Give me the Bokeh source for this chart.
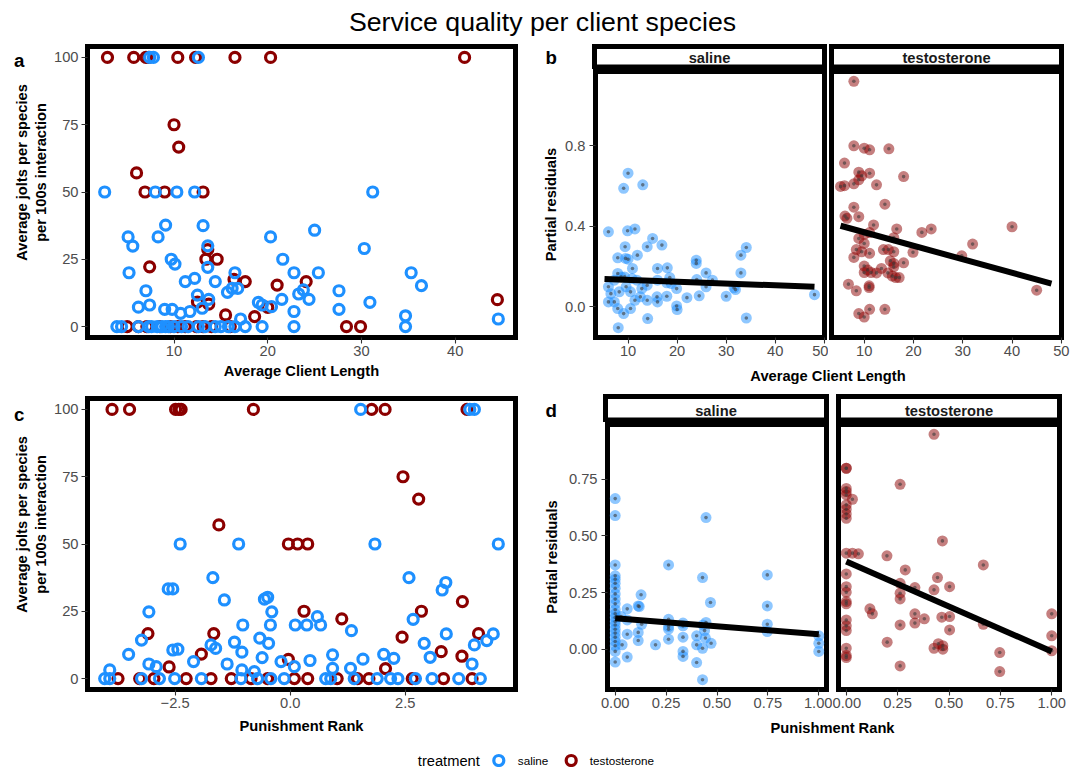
import math
from bokeh.plotting import figure
from bokeh.layouts import row, column
from bokeh.models import Range1d, FixedTicker, PrintfTickFormatter
from bokeh.core.properties import value
from bokeh.embed import file_html
from bokeh.resources import INLINE

FONT = "Liberation Sans"
BLUE = "#1E90FF"
RED = "#8B0000"
TICKTXT = "#4D4D4D"
FS = "14.7px"

# ---------------- data ----------------
# Panel a: average client length vs jolts (saline / testosterone)
a_sal_x = [7.4, 7.8, 12.6, 2.6, 8.0, 10.3, 12.2, 31.2, 9.1, 13.1, 25.0, 5.1, 8.3, 20.3,
           5.6, 30.3, 13.6, 9.7, 21.6, 10.1, 13.6, 5.2, 16.5, 22.8, 25.4, 35.3, 12.2, 11.2,
           14.4, 36.4, 15.7, 16.2, 16.8, 7.0, 27.6, 23.3, 23.8, 12.5, 24.4, 21.5, 13.7, 19.0,
           30.9, 19.4, 6.2, 7.4, 9.0, 9.8, 20.4, 27.6, 10.7, 22.8, 34.7, 44.6, 11.7, 13.0, 17.1,
           3.9, 4.4, 6.2, 7.3, 7.6, 8.2, 8.7, 9.1, 9.4, 10.0, 10.8, 11.5, 12.6, 13.3, 14.4,
           15.0, 15.8, 16.5, 17.6, 19.4, 22.8, 34.7]
a_sal_y = [100, 100, 100, 50, 50, 50, 50, 50, 37.7, 37.5, 35.8, 33.3, 33.3, 33.3,
           29.9, 29.0, 30.0, 25.0, 25.0, 23.2, 22.0, 20.0, 20.0, 20.0, 20.0, 20.0, 17.9, 16.7,
           16.7, 15.2, 12.7, 14.2, 14.2, 13.3, 13.3, 12.1, 13.6, 11.7, 10.1, 10.1, 10.1, 9.0,
           9.0, 8.0, 7.2, 8.0, 6.4, 6.4, 7.4, 6.4, 4.9, 5.6, 4.0, 2.8, 5.6, 6.8, 2.8,
           0, 0, 0, 0, 0, 0, 0, 0, 0, 0, 0, 0, 0, 0, 0, 0, 0, 0, 0, 0, 0, 0]
a_tes_x = [2.9, 5.7, 7.0, 7.3, 10.4, 12.3, 16.5, 20.3, 41.0, 10.0, 10.5, 6.0, 6.9, 9.0, 13.1,
           13.6, 13.4, 14.6, 7.4, 16.4, 17.6, 24.1, 21.0, 44.5, 12.5, 13.7, 15.5, 18.6, 20.0,
           5.0, 6.2, 7.1, 8.5, 9.6, 10.4, 11.2, 12.4, 13.1, 14.0, 16.0, 28.4, 29.9]
a_tes_y = [100, 100, 100, 100, 100, 100, 100, 100, 100, 75, 66.7, 57.1, 50, 50, 50,
           28.6, 25, 25, 22.2, 17.5, 16.7, 16.7, 15.4, 10, 9.1, 8.3, 4.3, 3.7, 7.1,
           0, 0, 0, 0, 0, 0, 0, 0, 0, 0, 0, 0, 0]

# Panel c: punishment rank vs jolts
c_sal_x = [1.53, 3.90, 4.00, -2.39, -1.12, 1.84, 4.52, -1.68, 2.58, 3.38, 3.30, -2.65, -2.55,
           -0.56, -0.49, -1.43, -3.07, -0.40, 0.59, 0.11, 0.36, 0.66, -1.03, -0.43, 2.67, 1.33,
           3.39, 4.41, 4.27, 4.00, -3.23, -1.21, -0.66, -0.47, -1.72, -1.62, 2.91,
           -3.51, -1.05, 2.03, 0.92, 2.25, 1.58, -0.61, 0.43, 3.04, -2.10, -2.55, -2.44,
           -3.07, -2.91, -3.92, -1.37, -0.20, 0.09, 0.92, 1.31, 3.95, -1.05, -0.78,
           -4.03, -3.92, -3.23, -2.84, -2.51, -1.93, -1.07, -0.71, -0.42, -0.13, 0.77, 0.88,
           1.39, 1.89, 2.18, 2.34, 2.72, 3.08, 3.66, 4.13]
c_sal_y = [100, 100, 100, 50, 50, 50, 50, 37.5, 37.5, 35.7, 32.9, 33.3, 33.3,
           29.5, 30.2, 29.2, 24.8, 24.8, 23.0, 19.9, 19.9, 19.9, 19.9, 19.9, 22.0, 17.8,
           16.6, 16.6, 14.1, 12.5, 14.3, 13.5, 15.0, 13.1, 12.5, 11.2, 13.1,
           9.0, 9.8, 9.0, 8.8, 7.5, 7.2, 7.8, 6.7, 7.9, 6.3, 10.6, 10.9,
           5.4, 4.4, 3.2, 5.4, 6.3, 4.4, 3.8, 3.8, 5.4, 3.2, 2.6,
           0, 0, 0, 0, 0, 0, 0, 0, 0, 0, 0, 0, 0, 0, 0, 0, 0, 0, 0, 0]
c_tes_x = [-3.87, -3.49, -2.49, -2.42, -2.37, -0.80, 1.77, 2.06, 3.84, 2.45, 2.79, -1.55,
           -0.04, 0.16, 0.38, 3.74, 0.30, 2.85, 1.12, -3.09, -1.66, 4.09, 2.43, 3.28, -1.93,
           3.73, -0.04, -2.63, 2.07,
           -3.74, -3.27, -2.96, -2.26, -1.72, -1.28, -0.85, -0.49, 0.09, 0.38, 1.02, 1.46,
           1.71, 2.65, 3.33, 3.95]
c_tes_y = [100, 100, 100, 100, 100, 100, 100, 100, 100, 75, 66.7, 57.1,
           50, 50, 50, 28.6, 25, 25, 22.2, 16.7, 16.7, 16.7, 15.4, 10, 9.1,
           8.3, 7.1, 4.3, 3.7,
           0, 0, 0, 0, 0, 0, 0, 0, 0, 0, 0, 0, 0, 0, 0, 0]

# Panel b: partial residuals vs average client length
b_sal_x = [6.0, 10.0, 9.1, 13.0, 9.9, 11.4, 9.4, 7.9, 9.5, 10.0, 11.9, 13.9, 15.0, 16.9,
           10.9, 16.0, 18.0, 23.9, 23.9, 25.9, 33.0, 34.1, 33.0, 7.9, 8.6, 7.2, 9.3, 10.8,
           11.8, 13.9, 16.0, 18.5, 27.2, 24.0, 6.0, 6.5, 6.0, 7.2, 8.2, 9.6, 10.5, 11.4,
           12.5, 12.8, 13.9, 15.9, 16.0, 17.9, 18.8, 19.9, 22.0, 24.5, 25.9, 30.0, 31.6,
           31.9, 48.0, 7.9, 9.1, 10.5, 8.0, 14.0, 19.9, 20.0, 34.1, 17.9]
b_sal_y = [0.373, 0.664, 0.589, 0.606, 0.378, 0.387, 0.299, 0.244, 0.241, 0.237, 0.257,
           0.299, 0.340, 0.307, 0.191, 0.191, 0.194, 0.232, 0.216, 0.169, 0.257, 0.295,
           0.169, 0.166, 0.149, 0.133, 0.149, 0.141, 0.133, 0.108, 0.133, 0.146, 0.133,
           0.136, 0.100, 0.066, 0.025, 0.025, 0.075, 0.100, 0.075, 0.033, 0.050, 0.091,
           0.033, 0.050, 0.025, 0.053, 0.116, 0.091, 0.046, 0.055, 0.100, 0.053, 0.095,
           0.086, 0.061, -0.008, -0.033, -0.008, -0.103, -0.058, 0.005, -0.013, -0.055, 0.120]
b_tes_x = [7.9, 7.9, 10.0, 11.1, 15.0, 6.0, 8.9, 11.1, 9.5, 8.9, 18.0, 5.2, 6.0, 7.9, 12.5,
           7.9, 8.9, 14.2, 6.5, 6.1, 11.9, 21.7, 23.6, 16.6, 40.0, 11.1, 10.0, 8.9, 16.0,
           32.0, 10.0, 8.4, 9.5, 11.1, 13.9, 14.9, 16.0, 19.9, 29.8, 7.9, 15.3, 16.0, 18.0,
           10.0, 16.0, 13.5, 10.7, 11.4, 10.0, 12.5, 14.8, 15.7, 16.4, 17.1, 6.8, 11.0, 11.0,
           8.4, 45.0, 11.1, 14.2, 8.9, 10.0]
b_tes_y = [1.120, 0.800, 0.788, 0.780, 0.785, 0.714, 0.669, 0.664, 0.651, 0.631, 0.647,
           0.598, 0.602, 0.611, 0.606, 0.495, 0.448, 0.510, 0.440, 0.451, 0.407, 0.370,
           0.387, 0.387, 0.398, 0.369, 0.360, 0.340, 0.344, 0.312, 0.315, 0.285, 0.274,
           0.266, 0.285, 0.285, 0.274, 0.271, 0.254, 0.246, 0.229, 0.216, 0.219, 0.203,
           0.199, 0.191, 0.183, 0.171, 0.171, 0.169, 0.169, 0.153, 0.146, 0.146, 0.113,
           0.105, 0.096, 0.080, 0.083, -0.012, -0.012, -0.033, -0.050]
b_fit_x = [5.2, 48.0]
b_fit_sal = [0.139, 0.100]
b_fit_tes = [0.403, 0.116]

# Panel d: partial residuals vs punishment rank
d_sal_x = [0.0] * 22 + [0.034, 0.029, 0.059, 0.059, 0.059, 0.059, 0.127, 0.113, 0.118, 0.130,
                        0.113, 0.113, 0.198, 0.262, 0.262, 0.262, 0.262, 0.262, 0.333, 0.333,
                        0.333, 0.333, 0.333, 0.400, 0.400, 0.400, 0.429, 0.429, 0.429, 0.446,
                        0.431, 0.446, 0.439, 0.443, 0.468, 0.471, 0.747, 0.747, 0.747, 0.747,
                        1.0, 1.0, 1.0]
d_sal_y = [0.665, 0.590, 0.372, 0.324, 0.309, 0.291, 0.269, 0.244, 0.221, 0.200, 0.174,
           0.156, 0.140, 0.122, 0.107, 0.088, 0.071, 0.053, 0.034, 0.015, -0.010, -0.057,
           0.019, 0.144, 0.178, 0.129, 0.066, -0.035, 0.240, 0.191, 0.188, 0.110,
           0.074, 0.038, 0.019, 0.372, 0.132, 0.100, 0.088, 0.044, 0.115, 0.103,
           0.053, -0.010, -0.032, 0.059, 0.019, -0.059, 0.316, 0.004, -0.135, 0.581,
           0.107, 0.118, 0.082, 0.049, 0.206, 0.026, 0.328, 0.191, 0.110, 0.078,
           0.059, 0.026, -0.010]
d_tes_x = [0.0] * 21 + [0.030, 0.030, 0.059, 0.198, 0.262, 0.262, 0.262, 0.262, 0.262, 0.262,
                        0.115, 0.127, 0.199, 0.287, 0.334, 0.334, 0.334, 0.380, 0.427, 0.444,
                        0.468, 0.427, 0.503, 0.465, 0.503, 0.503, 0.427, 0.448, 0.470, 0.470,
                        0.667, 0.667, 0.747, 0.747, 1.0, 1.0, 1.0]
d_tes_y = [0.799, 0.799, 0.710, 0.696, 0.681, 0.637, 0.618, 0.597, 0.578, 0.424, 0.332,
           0.276, 0.251, 0.210, 0.200, 0.129, 0.103, 0.082, 0.004, -0.028, -0.037,
           0.662, 0.424, 0.421, 0.412, 0.728, 0.291, 0.247, 0.222, 0.107, -0.074,
           0.178, 0.156, 0.031, 0.350, 0.272, 0.156, 0.115, 0.134, 0.262, 0.316,
           0.478, 0.949, 0.276, 0.141, 0.144, 0.085, 0.004, 0.024, 0.015, 0.000,
           0.372, 0.110, -0.015, -0.099, 0.156, 0.059, -0.007]
d_fit_x = [0.0, 1.0]
d_fit_sal = [0.137, 0.066]
d_fit_tes = [0.387, -0.010]

a_xticks = [10, 20, 30, 40]
jolt_ticks = [0, 25, 50, 75, 100]
c_xticks = [-2.5, 0, 2.5]
b_xticks = [10, 20, 30, 40, 50]
b_yticks = [0, 0.4, 0.8]
d_xticks = [0, 0.25, 0.5, 0.75, 1.0]
d_yticks = [0, 0.25, 0.5, 0.75]
facets = ["saline", "testosterone"]
jolt_label = ["Average jolts per species", "per 100s interaction"]


# ---------------- helpers ----------------
def expand(vals, f=0.05):
    lo, hi = min(vals), max(vals)
    d = (hi - lo) * f
    return lo - d, hi + d


def rng(lo, hi, v0, v1, f0, f1):
    k = (v1 - v0) / (hi - lo)
    return Range1d(lo + (f0 - v0) / k, hi + (f1 - v1) / k)


def xr_from(lo, hi, vl, vr, fl, fr):
    return rng(lo, hi, vl, vr, fl, fr)


def yr_from(lo, hi, vt, vb, ft, fb):
    return rng(lo, hi, -vb, -vt, -fb, -ft)


def panel(w, h, mbl, mbr, mbt, mbb, xr, yr, yaxis=True):
    p = figure(width=w, height=h, min_border_left=mbl, min_border_right=mbr,
               min_border_top=mbt, min_border_bottom=mbb, x_range=xr, y_range=yr,
               toolbar_location=None, output_backend="svg",
               y_axis_location="left" if yaxis else None)
    p.grid.visible = False
    p.outline_line_color = "black"
    p.outline_line_width = 5
    p.outline_line_alpha = 1
    p.outline_line_join = "miter"
    p.background_fill_color = "white"
    p.border_fill_color = "white"
    for ax in p.axis:
        ax.axis_line_color = None
        ax.major_tick_out = 6
        ax.major_tick_in = 0
        ax.minor_tick_line_color = None
        ax.major_tick_line_color = "#333333"
        ax.major_tick_line_width = 1.1
        ax.major_label_text_font = FONT
        ax.major_label_text_font_size = FS
        ax.major_label_text_color = TICKTXT
        ax.axis_label_text_font = FONT
        ax.axis_label_text_font_size = FS
        ax.axis_label_text_font_style = "bold"
        ax.axis_label_text_color = "black"
    return p


def text_fig(w, h, x0, x1, y0, y1):
    # a plain drawing surface whose data units are page pixels
    p = figure(width=w, height=h, x_range=Range1d(x0, x1), y_range=Range1d(y1, y0),
               toolbar_location=None, output_backend="svg",
               x_axis_location=None, y_axis_location=None,
               min_border_left=0, min_border_right=0, min_border_top=0, min_border_bottom=0)
    p.grid.visible = False
    p.outline_line_color = None
    p.background_fill_color = "white"
    p.border_fill_color = "white"
    return p


def put_text(p, x, y, txt, size=FS, bold=False, align="center", baseline="middle",
             angle=0.0, color="black"):
    p.text(x=[x], y=[y], text=[txt], text_font=value(FONT), text_font_size=size,
           text_font_style="bold" if bold else "normal", text_align=align,
           text_baseline=baseline, angle=angle, text_color=color)


def open_pts(p, x, y, col):
    p.scatter(x, y, size=10, marker="circle", fill_color=None, line_color=col,
              line_width=3.2)


def resid_pts(p, x, y, col):
    p.scatter(x, y, size=11, marker="circle", fill_color=col, fill_alpha=0.5,
              line_color=None)
    p.scatter(x, y, size=3.6, marker="circle", fill_color="#3A3A3A", fill_alpha=0.6,
              line_color=None)


def strip_band(x0, y0, y1, boxes, names, text_y, letter, letter_y):
    s = text_fig(1084 - x0, y1 - y0, x0, 1084, y0, y1)
    for (l, r), name in zip(boxes, names):
        s.quad(left=[l], right=[r], top=[y0 + 6], bottom=[y1 - 2.5], fill_color="white",
               line_color="black", line_width=5, line_join="miter")
        put_text(s, (l + r) / 2, text_y, name, bold=True, color="#1A1A1A")
    put_text(s, 545, letter_y, letter, size="18.7px", bold=True, align="left",
             baseline="alphabetic")
    return s


def left_band(y0, y1, letter, letter_y, label_cy):
    s = text_fig(50, y1 - y0, 0, 50, y0, y1)
    put_text(s, 13.5, letter_y, letter, size="18.7px", bold=True, align="left",
             baseline="alphabetic")
    put_text(s, 21, label_cy, jolt_label[0], bold=True, angle=math.pi / 2)
    put_text(s, 40.5, label_cy, jolt_label[1], bold=True, angle=math.pi / 2)
    return s


# ---------------- title ----------------
title_fig = text_fig(1084, 40, 0, 1084, 0, 40)
put_text(title_fig, 542, 21, "Service quality per client species", size="26.7px")

# ---------------- panel a ----------------
ax_lo, ax_hi = expand(a_sal_x + a_tes_x)
jy_lo, jy_hi = expand(jolt_ticks)
xr_a = xr_from(ax_lo, ax_hi, 84.5, 517.5, 87, 515)
yr_a = yr_from(jy_lo, jy_hi, 43.5, 339.5, 46, 337)
left_a = left_band(40, 390, "a", 57, 191.5)
pa = panel(490, 350, 37, 25, 6, 53, xr_a, yr_a)
open_pts(pa, a_tes_x, a_tes_y, RED)
open_pts(pa, a_sal_x, a_sal_y, BLUE)
pa.xaxis.ticker = FixedTicker(ticks=a_xticks)
pa.yaxis.ticker = FixedTicker(ticks=jolt_ticks)
pa.xaxis.axis_label = "Average Client Length"
pa.xaxis.major_label_standoff = 2
pa.xaxis.axis_label_standoff = 4
pa.yaxis.major_label_standoff = 3

# ---------------- panel b ----------------
bx_lo, bx_hi = expand(b_sal_x + b_tes_x)
by_lo, by_hi = expand(b_sal_y + b_tes_y)
xr_b = xr_from(bx_lo, bx_hi, 592.5, 824.5, 594, 824)
yr_b = yr_from(by_lo, by_hi, 68.5, 339.5, 71, 337)
strip_b = strip_band(540, 40, 69, [(594, 824), (831, 1061)], facets, 57, "b", 57)
pbs = panel(288, 296, 54, 4, 2, 28, xr_b, yr_b)
pbt = panel(256, 296, 3, 23, 2, 28, xr_b, yr_b, yaxis=False)
for p, xs, ys, fy, col in [(pbs, b_sal_x, b_sal_y, b_fit_sal, BLUE),
                           (pbt, b_tes_x, b_tes_y, b_fit_tes, RED)]:
    resid_pts(p, xs, ys, col)
    p.line(b_fit_x, fy, line_color="black", line_width=6)
    p.xaxis.ticker = FixedTicker(ticks=b_xticks)
    p.xaxis.major_label_standoff = 2
pbs.yaxis.ticker = FixedTicker(ticks=b_yticks)
pbs.yaxis.formatter = PrintfTickFormatter(format="%.1f")
pbs.yaxis.axis_label = "Partial residuals"
pbs.yaxis.major_label_standoff = 4
pbs.yaxis.axis_label_standoff = 3

lab_b = text_fig(544, 25, 540, 1084, 365, 390)
put_text(lab_b, 827.5, 375.5, "Average Client Length", bold=True)

# ---------------- panel c ----------------
cx_lo, cx_hi = expand(c_sal_x + c_tes_x)
xr_c = xr_from(cx_lo, cx_hi, 84.5, 517.5, 87, 515)
yr_c = yr_from(jy_lo, jy_hi, 395.5, 691.5, 398, 689)
left_c = left_band(390, 745, "c", 410, 543.5)
pc = panel(490, 355, 37, 25, 8, 56, xr_c, yr_c)
open_pts(pc, c_tes_x, c_tes_y, RED)
open_pts(pc, c_sal_x, c_sal_y, BLUE)
pc.xaxis.ticker = FixedTicker(ticks=c_xticks)
pc.xaxis.formatter = PrintfTickFormatter(format="%.1f")
pc.xaxis.major_label_overrides = {-2.5: "\u22122.5"}
pc.yaxis.ticker = FixedTicker(ticks=jolt_ticks)
pc.xaxis.axis_label = "Punishment Rank"
pc.xaxis.major_label_standoff = 2
pc.xaxis.axis_label_standoff = 7
pc.yaxis.major_label_standoff = 3

# ---------------- panel d ----------------
dx_lo, dx_hi = expand(d_sal_x + d_tes_x)
dy_lo, dy_hi = expand(d_sal_y + d_tes_y)
xr_d = xr_from(dx_lo, dx_hi, 602.5, 828.5, 605, 826)
yr_d = yr_from(dy_lo, dy_hi, 421.5, 691.5, 424, 689)
strip_d = strip_band(540, 390, 422, [(605, 826), (838, 1059)], facets, 410, "d", 410)
pds = panel(292, 295, 65, 6, 2, 28, xr_d, yr_d)
pdt = panel(252, 295, 6, 25, 2, 28, xr_d, yr_d, yaxis=False)
for p, xs, ys, fy, col in [(pds, d_sal_x, d_sal_y, d_fit_sal, BLUE),
                           (pdt, d_tes_x, d_tes_y, d_fit_tes, RED)]:
    resid_pts(p, xs, ys, col)
    p.line(d_fit_x, fy, line_color="black", line_width=6)
    p.xaxis.ticker = FixedTicker(ticks=d_xticks)
    p.xaxis.formatter = PrintfTickFormatter(format="%.2f")
    p.xaxis.major_label_standoff = 2
pds.yaxis.ticker = FixedTicker(ticks=d_yticks)
pds.yaxis.formatter = PrintfTickFormatter(format="%.2f")
pds.yaxis.axis_label = "Partial residuals"
pds.yaxis.major_label_standoff = 4
pds.yaxis.axis_label_standoff = 6

lab_d = text_fig(544, 28, 540, 1084, 717, 745)
put_text(lab_d, 832, 727, "Punishment Rank", bold=True)

# ---------------- legend ----------------
leg = text_fig(1084, 22, 0, 1084, 745, 767)
put_text(leg, 417.3, 760, "treatment", align="left")
leg.scatter([498.3], [760], size=10, marker="circle", fill_color=None, line_color=BLUE,
            line_width=3.2)
leg.scatter([570.7], [760], size=10, marker="circle", fill_color=None, line_color=RED,
            line_width=3.2)
put_text(leg, 517.3, 760, facets[0], size="11.7px", align="left")
put_text(leg, 589.3, 760, facets[1], size="11.7px", align="left")

layout = column(
    title_fig,
    row(left_a, pa, column(strip_b, row(pbs, pbt), lab_b)),
    row(left_c, pc, column(strip_d, row(pds, pdt), lab_d)),
    leg,
)

open("out.html", "w").write(file_html(layout, INLINE))
